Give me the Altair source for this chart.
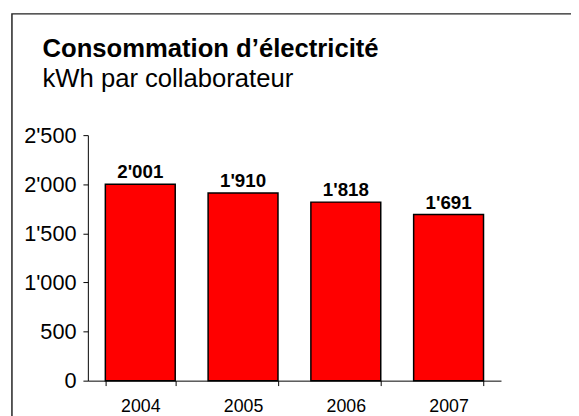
import altair as alt
import pandas as pd

years = ["2004", "2005", "2006", "2007"]
values = [2001, 1910, 1818, 1691]
y_ticks = [0, 500, 1000, 1500, 2000, 2500]
title_text = "Consommation d’électricité"
subtitle_text = "kWh par collaborateur"

df = pd.DataFrame({"year": years, "value": values})
FONT = "Liberation Sans"
fmt = "replace(format(datum.value, ','), ',', \"'\")"

base = alt.Chart(df)

bars = base.mark_bar(color="#FF0000", stroke="black", strokeWidth=1.5).encode(
    x=alt.X("year:N", title=None,
            scale=alt.Scale(paddingInner=0.32, paddingOuter=0.17),
            axis=alt.Axis(labelAngle=0, tickBand="extent", tickSize=5,
                          labelPadding=12, labelFontSize=18, labelFont=FONT,
                          labelColor="black", domainColor="black", tickColor="black",
                          domainWidth=1, tickWidth=1)),
    y=alt.Y("value:Q", title=None,
            scale=alt.Scale(domain=[0, 2500], nice=False),
            axis=alt.Axis(values=y_ticks, grid=False, tickSize=5, labelPadding=7,
                          labelExpr=fmt, labelFontSize=22, labelFont=FONT,
                          labelColor="black", domainColor="black", tickColor="black",
                          domainWidth=1, tickWidth=1)),
)

labels = base.transform_calculate(label=fmt).mark_text(
    dy=-6, baseline="alphabetic", fontWeight="bold", fontSize=19, font=FONT, color="black"
).encode(x="year:N", y="value:Q", text="label:N")

one = pd.DataFrame({"k": [0]})
frame = alt.Chart(one).mark_rect(
    fill=None, stroke="#222222", strokeWidth=1.5, clip=False
).encode(x=alt.value(-77), x2=alt.value(600), y=alt.value(-123), y2=alt.value(400))

title = alt.Chart(one).mark_text(
    text=title_text, align="left", baseline="alphabetic", fontSize=26,
    fontWeight="bold", font=FONT, color="black"
).encode(x=alt.value(-46), y=alt.value(-79))

subtitle = alt.Chart(one).mark_text(
    text=subtitle_text, align="left", baseline="alphabetic", fontSize=26,
    font=FONT, color="black"
).encode(x=alt.value(-46), y=alt.value(-49))

chart = alt.layer(frame, title, subtitle, bars, labels).properties(
    width=419, height=249,
    autosize="none",
    background="white",
    padding={"left": 81, "top": 126, "right": 71, "bottom": 40},
).configure_view(strokeWidth=0, stroke=None)

chart.save("out.html", embed_options={"renderer": "svg", "actions": False})
